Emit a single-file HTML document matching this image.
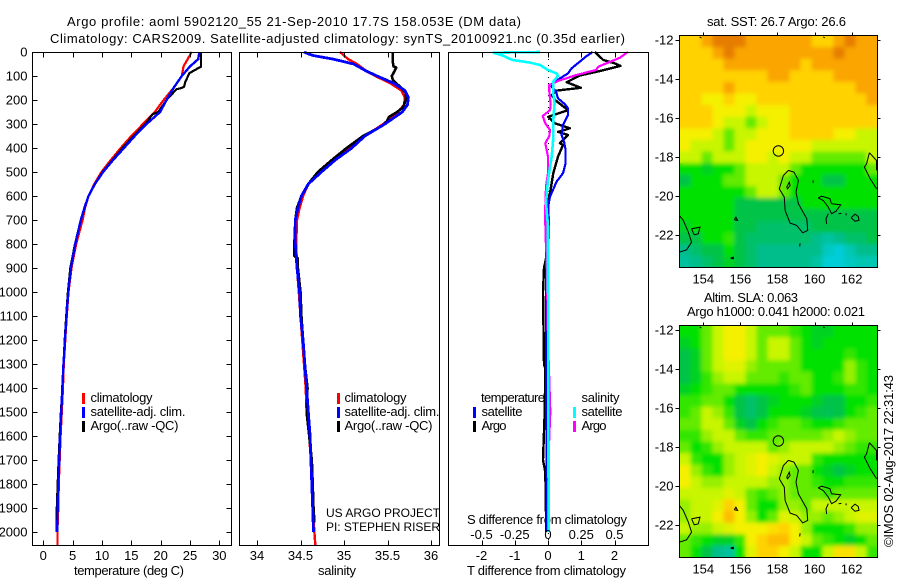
<!DOCTYPE html>
<html lang="en">
<head>
<meta charset="utf-8">
<title>Argo profile 5902120_55</title>
<style>
html,body{margin:0;padding:0;background:#fff;}
svg{display:block;}
text{font-family:"Liberation Sans",sans-serif;font-size:13px;fill:#000;}
</style>
</head>
<body>
<svg id="chart" xmlns="http://www.w3.org/2000/svg" width="900" height="580" viewBox="0 0 900 580">
<defs>
<filter id="soft" x="-5%" y="-5%" width="110%" height="110%"><feGaussianBlur stdDeviation="2"/></filter>
<clipPath id="clip-sst"><rect x="679.5" y="35.5" width="198" height="232"/></clipPath>
<clipPath id="clip-sla"><rect x="679.5" y="325.5" width="198" height="232"/></clipPath>
</defs>
<text x="67" y="26" textLength="454" lengthAdjust="spacing">Argo profile: aoml 5902120_55 21-Sep-2010 17.7S 158.053E (DM data)</text>
<text x="50" y="43" textLength="575" lengthAdjust="spacing">Climatology: CARS2009. Satellite-adjusted climatology: synTS_20100921.nc (0.35d earlier)</text>
<text x="74" y="575" textLength="110" lengthAdjust="spacing">temperature (deg C)</text>
<text x="318" y="575" textLength="38" lengthAdjust="spacing">salinity</text>
<text x="467" y="575" textLength="159" lengthAdjust="spacing">T difference from climatology</text>
<text x="467" y="524" textLength="160" lengthAdjust="spacing">S difference from climatology</text>
<text x="326" y="517" textLength="114" lengthAdjust="spacing" style="font-size:12px">US ARGO PROJECT</text>
<text x="326" y="531" textLength="114" lengthAdjust="spacing" style="font-size:12px">PI: STEPHEN RISER</text>
<text x="707" y="26" textLength="139" lengthAdjust="spacing">sat. SST: 26.7 Argo: 26.6</text>
<text x="704" y="302" textLength="94" lengthAdjust="spacing">Altim. SLA: 0.063</text>
<text x="687" y="316" textLength="178" lengthAdjust="spacing">Argo h1000: 0.041 h2000: 0.021</text>
<text transform="translate(893,547) rotate(-90)" textLength="172" lengthAdjust="spacing">©IMOS 02-Aug-2017 22:31:43</text>

<g>
<rect x="82" y="393" width="3" height="11" fill="#f00"/><rect x="82" y="407" width="3" height="11" fill="#00f"/><rect x="82" y="421" width="3" height="11" fill="#000"/>
<text x="90.5" y="402" textLength="62" lengthAdjust="spacing">climatology</text>
<text x="90.5" y="416" textLength="95" lengthAdjust="spacing">satellite-adj. clim.</text>
<text x="90.5" y="430" textLength="88" lengthAdjust="spacing">Argo(..raw -QC)</text>
</g>
<g>
<rect x="337" y="393" width="3" height="11" fill="#f00"/><rect x="337" y="407" width="3" height="11" fill="#00f"/><rect x="337" y="421" width="3" height="11" fill="#000"/>
<text x="344.5" y="402" textLength="62" lengthAdjust="spacing">climatology</text>
<text x="344.5" y="416" textLength="95" lengthAdjust="spacing">satellite-adj. clim.</text>
<text x="344.5" y="430" textLength="88" lengthAdjust="spacing">Argo(..raw -QC)</text>
</g>

<g id="layer-plots"></g>

<g>
<rect x="473" y="407" width="3" height="11" fill="#00f"/><rect x="473" y="421" width="3" height="11" fill="#000"/>
<rect x="573" y="407" width="3" height="11" fill="#0ff"/><rect x="573" y="421" width="3" height="11" fill="#f0f"/>
<text x="481" y="402" textLength="64" lengthAdjust="spacing">temperature</text>
<text x="481.5" y="416" textLength="41" lengthAdjust="spacing">satellite</text>
<text x="481.5" y="430" textLength="25" lengthAdjust="spacing">Argo</text>
<text x="581.5" y="402" textLength="38" lengthAdjust="spacing">salinity</text>
<text x="581.5" y="416" textLength="41" lengthAdjust="spacing">satellite</text>
<text x="581.5" y="430" textLength="25" lengthAdjust="spacing">Argo</text>
</g>
</svg>
<script>
// ---------- profile depth ticks ----------
const depthTicks = [0,100,200,300,400,500,600,700,800,900,1000,1100,1200,1300,1400,1500,1600,1700,1800,1900,2000];

// ---------- temperature panel ----------
const tempTicks = [0,5,10,15,20,25,30];
const tempDepths = [0,30,60,100,150,200,250,300,350,400,450,500,550,600,650,700,800,900,1000,1100,1200,1300,1400,1500,1600,1700,1800,1900,2000,2055];
const tempClim = [25.3,24.6,23.9,23.6,22.2,20.5,19,17,15,13.2,11.5,9.9,8.7,7.7,7.1,6.7,5.6,4.8,4.3,4,3.75,3.5,3.35,3.15,2.95,2.8,2.65,2.55,2.4,2.4];
const tempSat = [26.6,26.4,25,23.6,22.2,21,19.9,17.6,15.6,13.75,11.9,10.2,8.8,7.7,7,6.4,5.45,4.7,4.26,3.95,3.7,3.45,3.24,3.07,2.84,2.73,2.56,2.44,2.39];
const tempArgoDepths = [0,61,88,125,144,150,155,200,250,260,300,350,400,450,500,550,600,700,800,900,1000,1100,1200,1300,1400,1500,1600,1700,1800,1900,1950,2000];
const tempArgo = [26.9,26.9,24.9,24.2,24,23.6,22.7,21,19.6,18.6,17.4,15.4,13.5,11.8,10.1,8.8,7.7,6.4,5.4,4.6,4.2,3.9,3.65,3.45,3.25,3,2.8,2.6,2.45,2.3,2.25,2.3];

// ---------- salinity panel ----------
const salTicks = [34,34.5,35,35.5,36];
const salDepths = [0,5,15,30,50,80,100,130,160,190,220,250,300,350,400,450,500,550,600,650,700,800,900,1000,1100,1200,1300,1400,1500,1600,1700,1800,1900,2000,2055];
const salClim = [34.95,34.97,35,35.05,35.15,35.26,35.36,35.53,35.66,35.7,35.69,35.62,35.45,35.24,35.07,34.9,34.74,34.59,34.53,34.49,34.46,34.45,34.46,34.48,34.5,34.52,34.54,34.56,34.57,34.6,34.62,34.63,34.64,34.66,34.67];
const salSat = [34.54,34.57,34.65,34.88,35.11,35.26,35.38,35.57,35.7,35.74,35.73,35.67,35.47,35.24,35.09,34.9,34.74,34.59,34.51,34.47,34.44,34.44,34.46,34.49,34.5,34.53,34.55,34.57,34.59,34.61,34.62,34.63,34.64,34.65];
const salArgoDepths = [0,40,60,65,80,100,115,130,150,170,200,230,250,270,290,310,350,400,450,500,540,600,650,700,800,850,860,900,1000,1100,1200,1300,1400,1500,1600,1700,1800,1900,1960];
const salArgo = [35.56,35.56,35.57,35.6,35.58,35.55,35.56,35.6,35.66,35.71,35.71,35.68,35.61,35.52,35.49,35.43,35.22,35.03,34.86,34.7,34.61,34.51,34.46,34.44,34.43,34.43,34.47,34.47,34.5,34.51,34.53,34.55,34.58,34.57,34.6,34.63,34.64,34.65,34.66];

// ---------- difference panel ----------
const tDiffTicks = [-2,-1,0,1,2];
const sDiffTicks = [-0.5,-0.25,0,0.25,0.5];
const tSatDepths = [0,19,40,68,89,110,130,144,165,193,218,235,262,304,346,373,408,464,505,540,603,640,728,770,811,860,1000,1500,2000];
const tSatDiff = [1.34,1.14,0.96,0.71,0.6,0.36,0.16,0.11,0.24,0.3,0.51,0.6,0.6,0.45,0.41,0.48,0.53,0.53,0.45,0.26,0.06,0.01,0.03,0.03,-0.02,-0.05,-0.06,-0.05,-0.04];
const tArgoDepths = [0,33,47,58,79,98,126,149,161,179,200,242,270,297,318,333,346,380,388,436,505,588,620,700,860,900,1000,1300,1320,1500,1700,1750,2000];
const tArgoDiff = [1.41,1.66,2,2.18,1.56,0.96,0.56,0.99,0.26,0.11,0.21,0.6,0.01,0.21,0.66,0.3,0.6,0.36,0.45,0.3,0.16,0.06,-0.02,-0.04,-0.06,-0.12,-0.15,-0.12,-0.08,-0.1,-0.15,-0.08,-0.05];
const sSatDepths = [0,3,15,33,44,54,75,89,100,124,171,213,296,367,436,533,629,725,921,2000];
const sSatDiff = [-0.06,-0.41,-0.34,-0.27,-0.135,-0.06,0,0.065,0.075,0.038,0.038,0.05,0.038,0.038,0.028,0,-0.015,0,0,0.005];
const sArgoDepths = [0,24,61,75,98,120,137,165,220,242,267,297,325,350,380,436,505,561,644,714,783,860,1200,1500,1600,1700,2000];
const sArgoDiff = [0.6,0.54,0.38,0.36,0.2,0.08,0.01,0.01,0.02,0.015,-0.04,-0.02,0.015,0.01,-0.02,0,0,-0.015,-0.02,-0.02,-0.017,-0.01,0,0.017,0.01,0.004,0];

// ---------- map axes ----------
const lonTicks = [154,156,158,160,162];
const latTicks = [-12,-14,-16,-18,-20,-22];
const argoLon = 158.05;
const argoLat = -17.7;

// ---------- map grids: colour level 0 (cyan) .. 9 (dark orange), one row per latitude band ----------
const sstRows = [
[7,7,8,9,9,9,8,8,8,8,8,8,7,7,8,9,8,8],
[7,7,7,8,9,8,8,8,8,8,8,8,8,8,9,8,8,8],
[7,7,7,7,8,8,8,8,8,8,8,7,8,8,8,8,8,8],
[7,7,7,7,7,7,7,7,8,8,7,7,7,7,8,8,8,8],
[7,7,7,7,8,7,7,7,7,7,7,7,7,7,7,7,8,8],
[7,7,6,6,7,6,6,7,7,7,7,7,7,7,7,7,7,8],
[7,7,7,6,6,6,5,6,6,6,7,7,7,7,7,7,7,7],
[7,7,7,6,5,5,4,5,6,6,7,7,7,7,7,7,7,7],
[6,6,6,5,4,5,5,6,6,6,7,7,7,7,6,6,5,5],
[6,5,5,5,4,5,6,6,6,6,6,6,5,5,5,5,5,5],
[5,5,4,5,5,5,6,6,5,6,5,5,4,4,4,4,4,5],
[3,3,2.5,3,3,4,5,5,5,5,4,3,3,3,3,3,3,4],
[2,3,3,3,4,4,5,5,5,4,3,3,3,2,2,3,3,3],
[3,3,3,3,3,3,4,5,5,4,3,3,3,3,3,3,3,3],
[3,3,3,3,3,2,2,2,2,2,2,3,3,3,3,3,3,3],
[3,3,3,3,3,2,2,2,2,2,2,2,2,2,2,2,2,2],
[2.5,3,3,3,3,2,2,1.5,1.5,1.5,1.5,1.5,2,2,2,2,2,2],
[2,2,3,3,3.5,2,1.5,1.5,1.5,1.5,1.5,1.5,1,0.7,1,1.5,1.5,2],
[1,1.5,2,2,3,2,1.5,1,1,1,1,1,1,0.3,0,0.5,1,1],
[0.8,1,1.5,2,2.5,2,1.5,1,1,1,1,1,0.7,0,0,0.3,0.5,0.5]
];
const slaRows = [
[3,3,4,5,6,6,5,4,4,4,3.5,3,2.5,2.5,3,3,3,3],
[2.5,3,4,5,6,6,5,4,5,5,4,3,2.5,3,3,3,3,3],
[2,2.5,4,5,6,6,5,4,5,5,4,3,3,3,3,3.5,3,3],
[2,2.5,4,5,5.5,5.5,4.5,4,4,4,4,3,3,3,3,4.5,3.5,3],
[2,2.5,3.5,4.5,5,5,4,4,4,3.5,4,4,3,3,3.5,4.5,3.5,3],
[2.5,3,3.5,4,4,3,3,3,3,3,3.5,4,3,3,3,3.5,3.5,3],
[3.5,3.5,4,4,3,2,1.5,2,2.5,3,3,3,2.5,2,2,3,3,3.5],
[3.5,4,5,4.5,3.5,2,1.5,2,3,3,3,2.5,2,1.8,2,3,3.5,4],
[4,4,5,5,4,2.5,2,3,3.5,4,4,3.5,3,3,3.5,4,4,4],
[3.5,3.5,4.5,5,5,4,3.5,3.5,4,4,4,4,4,4.5,5,4.5,4,4],
[4,3,3.5,4.5,5,5,5,5,4,4.5,5,5,5,5,4.5,4,3.5,3.5],
[5,3.5,3,3,4.5,5,5.5,6,5.5,5,5,5,3.5,3,3,3,3,3],
[6,4.5,3.5,3,4.5,5,5.5,6,5,4.5,4,4,3,2.5,2,2.5,3,3],
[6,5,4.5,4.5,5,5,5,5,4.5,4.5,4,4,3.5,3,3,3.5,3.5,3.5],
[5,5,5,5,5.5,5,4,3.5,4,4.5,4,4,4,3.5,4,4,4,4],
[4.5,5,5,5.5,7,6,4,3,3,4.5,4.5,4,5,5,5,5,5,5],
[4.5,5,5,6,7.5,6,4.5,3,4,5.5,5,4.5,4.5,4,4.5,5,5.5,5.5],
[5,4.5,4.5,5,5.5,6,6,6,6.5,7,6,4.5,3,3,3,3.5,4.5,4.5],
[4,3.5,3,2.5,2.5,3.5,6,7,7.5,7.5,6,5,4,3.5,3,2.5,3,4],
[4,3,2,1,0.8,3,5.5,7,7,6,5,3,3,5,6.5,6.5,5,3.5]
];
const levelColours = ["0,205,215","0,190,140","0,195,70","0,225,0","100,235,0","200,245,0","245,240,0","255,210,0","250,165,0","230,125,0"];

// ---------- coastline contours as [lon, lat] ----------
const coastLines = [
[[158.59,-18.7],[158.89,-18.79],[159.13,-19.21],[159,-19.81],[159.13,-20.41],[159.58,-21.18],[159.63,-21.78],[159.36,-21.9],[159.04,-21.52],[158.68,-21.4],[158.41,-20.75],[158.37,-20.07],[158.1,-19.64],[158.32,-18.96],[158.59,-18.7]],
[[158.5,-19.56],[158.64,-19.3],[158.68,-19.47],[158.54,-19.64],[158.5,-19.56]],
[[159.92,-19.2],[159.92,-19.35]],
[[160.2,-20.1],[160.38,-20.02],[160.83,-20.15],[160.92,-20.41],[161.41,-20.46],[161.16,-20.79],[160.92,-20.92],[160.74,-20.58],[160.47,-20.24],[160.2,-20.1]],
[[160.74,-20.92],[160.62,-21.18],[160.65,-21.44]],
[[161.3,-20.92],[161.45,-20.9]],
[[161.7,-20.9],[161.7,-21]],
[[161.97,-21.13],[162.18,-20.94],[162.36,-21.06],[162.4,-21.26],[162.18,-21.3],[161.97,-21.13]],
[[162.96,-17.79],[163.34,-18.19],[163.35,-18.7]],
[[162.96,-17.79],[162.81,-18.36],[162.69,-18.53],[163,-19.13],[163.35,-19.64]],
[[152.7,-21],[152.92,-21.26],[153.19,-21.86],[153.37,-22.38],[153.1,-22.77],[152.7,-22.89]],
[[153.37,-21.69],[153.82,-21.61],[153.73,-21.95],[153.51,-22],[153.37,-21.69]],
[[155.67,-21.23],[155.76,-21.09],[155.85,-21.26],[155.67,-21.23]],
[[155.47,-23.2],[155.62,-23.15],[155.62,-23.23],[155.47,-23.2]],
[[159.22,-22.43],[159.2,-22.6]],
[[160.47,-11.85],[160.55,-11.9]],
[[153.8,-11.85],[153.9,-11.9]]
];

const NS = 'http://www.w3.org/2000/svg';
const root = document.getElementById('layer-plots');

function node(tag, attrs, parent) {
  const el = document.createElementNS(NS, tag);
  for (const k in attrs) el.setAttribute(k, attrs[k]);
  (parent || root).appendChild(el);
  return el;
}
function label(txt, x, y, anchor, name, parent) {
  const el = node('text', {x: x, y: y, 'text-anchor': anchor}, parent);
  el.textContent = txt;
  
  
  return el;
}
function tickLine(x1, y1, x2, y2, name, parent) {
  const el = node('line', {x1: x1, y1: y1, x2: x2, y2: y2, stroke: '#000', 'stroke-width': 1, 'shape-rendering': 'crispEdges'}, parent);
  
  
  return el;
}

// axis functions
const yDepth = d => 52 + d * 0.24;
const xTemp = t => 43.3 + t * 5.867;
const xSal = s => 257 + (s - 34) * 87;
const xTDiff = t => 548 + t * 33.25;
const xSDiff = s => 548 + s * 133;
const xLon = lon => 703.3 + (lon - 154) * 18.54;
const yLat = (lat, top) => top + 4.3 + (-12 - lat) * 19.5;

function profile(depths, values, xFn, colour, width, name) {
  const pts = values.map((v, i) => xFn(v).toFixed(1) + ',' + yDepth(depths[i]).toFixed(1)).join(' ');
  const el = node('polyline', {points: pts, fill: 'none', stroke: colour, 'stroke-width': width, 'shape-rendering': 'crispEdges', 'stroke-linejoin': 'round'});
  
  
  return el;
}
function xTicks(ticks, xFn, top, bottom, name) {
  ticks.forEach(t => {
    const x = Math.round(xFn(t)) + 0.5;
    tickLine(x, top, x, top + 5, name + '-top-tick');
    tickLine(x, bottom - 5, x, bottom, name + '-bottom-tick');
    label(String(t), xFn(t), 560, 'middle', name + '-tick-label');
  });
}
function frame(x, w, name) {
  const el = node('rect', {x: x, y: 52.5, width: w, height: 493, fill: 'none', stroke: '#000', 'stroke-width': 1, 'shape-rendering': 'crispEdges'});
  
  
}

// temperature panel
profile(tempDepths, tempClim, xTemp, '#f00', 2.2, 'temperature-climatology-line');
profile(tempArgoDepths, tempArgo, xTemp, '#000', 2.2, 'temperature-argo-line');
profile(tempDepths, tempSat, xTemp, '#00f', 2.4, 'temperature-satellite-line');
frame(32.5, 199, 'temperature-panel-frame');
xTicks(tempTicks, xTemp, 52.5, 545.5, 'temperature');
depthTicks.forEach(d => {
  const y = Math.round(yDepth(d)) + 0.5;
  tickLine(32.5, y, 37.5, y, 'depth-left-tick');
  tickLine(226.5, y, 231.5, y, 'depth-right-tick');
  label(String(d), 27.5, yDepth(d) + 4.5, 'end', 'depth-tick-label');
});

// salinity panel
profile(salDepths, salClim, xSal, '#f00', 2.4, 'salinity-climatology-line');
profile(salArgoDepths, salArgo, xSal, '#000', 2.6, 'salinity-argo-line');
profile(salDepths, salSat, xSal, '#00f', 2.8, 'salinity-satellite-line');
frame(239.5, 200, 'salinity-panel-frame');
xTicks(salTicks, xSal, 52.5, 545.5, 'salinity');

// difference panel
const zeroLine = node('line', {x1: 548.5, y1: 53, x2: 548.5, y2: 545, stroke: '#000', 'stroke-width': 1, 'stroke-dasharray': '1 5', 'shape-rendering': 'crispEdges'});


profile(tArgoDepths, tArgoDiff, xTDiff, '#000', 2.4, 'temperature-difference-argo-line');
profile(tSatDepths, tSatDiff, xTDiff, '#00f', 2.2, 'temperature-difference-satellite-line');
profile(sArgoDepths, sArgoDiff, xSDiff, '#f0f', 2.2, 'salinity-difference-argo-line');
profile(sSatDepths, sSatDiff, xSDiff, '#0ff', 2.6, 'salinity-difference-satellite-line');
frame(448.5, 200, 'difference-panel-frame');
xTicks(tDiffTicks, xTDiff, 52.5, 545.5, 'temperature-difference');
sDiffTicks.forEach(s => {
  label(String(s), xSDiff(s), 539, 'middle', 'salinity-difference-tick-label');
});

// maps
function levelColour(v) {
  const i = Math.min(8, Math.floor(v));
  const f = v - i;
  const a = levelColours[i].split(',').map(Number);
  const b = levelColours[i + 1].split(',').map(Number);
  return 'rgb(' + a.map((c, k) => Math.round(c + (b[k] - c) * f)).join(',') + ')';
}
function drawMap(rows, top, clipId, name) {
  const bottom = top + 232;
  const left = 679.5, right = 877.5;
  const clipped = node('g', {'clip-path': 'url(#' + clipId + ')'});
  
  
  const backing = node('g', {}, clipped);
  const soft = node('g', {filter: 'url(#soft)'}, clipped);
  const cw = (right - left) / rows[0].length;
  const ch = (bottom - top) / rows.length;
  [backing, soft].forEach(group => {
    rows.forEach((row, r) => {
      row.forEach((v, c) => {
        const cell = node('rect', {x: left + c * cw, y: top + r * ch, width: cw + 0.5, height: ch + 0.5, fill: levelColour(v)}, group);
        
        
      });
    });
  });
  coastLines.forEach(line => {
    const pts = line.map(p => xLon(p[0]).toFixed(1) + ',' + yLat(p[1], top).toFixed(1)).join(' ');
    const coast = node('polyline', {points: pts, fill: 'none', stroke: '#000', 'stroke-width': 1}, clipped);
    
    
  });
  const marker = node('circle', {cx: xLon(argoLon), cy: yLat(argoLat, top), r: 5.2, fill: 'none', stroke: '#000', 'stroke-width': 1});
  
  
  const box = node('rect', {x: left, y: top, width: right - left, height: bottom - top, fill: 'none', stroke: '#000', 'stroke-width': 1, 'shape-rendering': 'crispEdges'});
  
  
  lonTicks.forEach(lon => {
    const x = Math.round(xLon(lon)) + 0.5;
    tickLine(x, top - 3, x, top, name + '-longitude-tick');
    label(String(lon), xLon(lon), bottom + 16, 'middle', name + '-longitude-label');
  });
  latTicks.forEach(lat => {
    const y = Math.round(yLat(lat, top)) + 0.5;
    tickLine(left - 4, y, left, y, name + '-latitude-tick');
    tickLine(right, y, right + 3, y, name + '-latitude-tick');
    label(String(lat), 673.5, yLat(lat, top) + 4.5, 'end', name + '-latitude-label');
  });
}
drawMap(sstRows, 35.5, 'clip-sst', 'sst');
drawMap(slaRows, 325.5, 'clip-sla', 'sla');
</script>
</body>
</html>
